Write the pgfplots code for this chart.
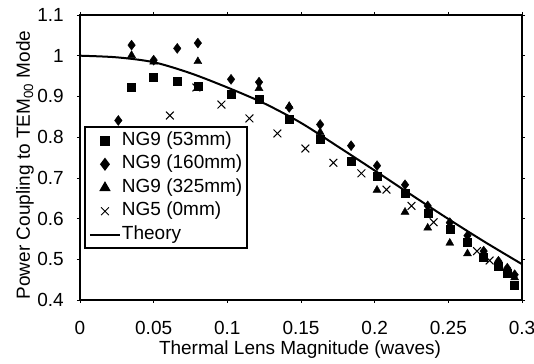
\documentclass[border=0pt]{standalone}
\usepackage{pgfplots}
\pgfplotsset{compat=1.18}
\usepackage{fontspec}
\setmainfont{Liberation Sans}
\newcommand{\lblfont}{\fontsize{19bp}{22bp}\selectfont}
\pgfplotsset{myleg/.style={legend image code/.code={\draw[mark repeat=2,mark phase=2,##1] plot coordinates {(0bp,0bp) (15bp,0bp) (30bp,0bp)};}}}
\begin{document}
\lblfont
\begin{tikzpicture}[font=\lblfont]
\begin{axis}[
  scale only axis, width=442bp, height=285bp,
  xmin=0, xmax=0.3, ymin=0.4, ymax=1.1,
  xtick={0,0.05,0.1,0.15,0.2,0.25,0.3},
  xticklabels={0,0.05,0.1,0.15,0.2,0.25,0.3},
  ytick={0.4,0.5,0.6,0.7,0.8,0.9,1.0,1.1},
  yticklabels={0.4,0.5,0.6,0.7,0.8,0.9,1,1.1},
  tick align=outside, major tick length=3bp,
  tick style={black, line width=0.6bp},
  axis line style={line width=2.2bp},
  /pgf/number format/assume math mode=true,
  tick label style={font=\lblfont},
  xticklabel style={inner sep=0pt, anchor=north, yshift=-18bp},
  yticklabel style={inner sep=0pt, anchor=east, xshift=-13bp},
  label style={font=\lblfont},
  xlabel={Thermal Lens Magnitude (waves)},
  xlabel style={at={(axis description cs:0.4977,-0.193)}, anchor=base, inner sep=0pt},
  ylabel={Power Coupling to TEM\textsubscript{00} Mode},
  ylabel style={at={(axis description cs:-0.1244,0.474)}, anchor=center, inner sep=0pt},
  legend style={at={(axis description cs:0.009,0.6105)}, anchor=north west,
    draw=black, line width=2bp, font=\lblfont, inner xsep=4bp, inner ysep=4bp,
    row sep=4bp,
    nodes={inner sep=1bp, text height=13.5bp, text depth=4bp, font=\lblfont}},
  legend cell align=left,
]
\addplot[only marks, mark=square*, mark size=4bp, black, myleg] coordinates {
(0.035,0.922)(0.050,0.947)(0.066,0.937)(0.080,0.925)(0.1025,0.905)(0.1215,0.893)
(0.142,0.843)(0.163,0.796)(0.184,0.742)(0.2016,0.705)(0.2206,0.662)(0.236,0.612)
(0.251,0.574)(0.263,0.542)(0.274,0.505)(0.284,0.484)(0.290,0.465)(0.295,0.436)};
\addlegendentry{NG9 (53mm)}
\addplot[only marks, mark=diamond*, mark size=5bp, black, myleg] coordinates {
(0.026,0.841)(0.035,1.026)(0.050,0.989)(0.066,1.018)(0.080,1.031)(0.1025,0.942)
(0.1215,0.935)(0.142,0.873)(0.163,0.831)(0.184,0.779)(0.2016,0.730)(0.2206,0.683)
(0.236,0.631)(0.251,0.590)(0.263,0.558)(0.274,0.520)(0.284,0.495)(0.290,0.478)(0.295,0.462)};
\addlegendentry{NG9 (160mm)}
\addplot[only marks, mark=triangle*, mark size=4.6bp, black, myleg] coordinates {
(0.035,1.001)(0.050,0.985)(0.080,0.986)(0.1215,0.920)(0.142,0.876)(0.163,0.812)
(0.2016,0.670)(0.2206,0.616)(0.236,0.577)(0.251,0.540)(0.263,0.514)(0.274,0.500)
(0.284,0.490)(0.290,0.473)(0.295,0.455)};
\addlegendentry{NG9 (325mm)}
\addplot[only marks, mark=x, mark size=5.5bp, black, mark options={line width=1bp}, myleg] coordinates {
(0.061,0.853)(0.079,0.922)(0.096,0.880)(0.115,0.846)(0.134,0.809)(0.153,0.772)
(0.172,0.737)(0.191,0.711)(0.208,0.671)(0.225,0.631)(0.240,0.591)(0.2695,0.520)(0.278,0.497)};
\addlegendentry{NG5 (0mm)}
\addplot[black, line width=2bp, smooth, no marks, myleg] coordinates {
(0,1.0)(0.025,0.996)(0.05,0.984)(0.075,0.957)(0.1,0.922)(0.125,0.883)(0.15,0.835)
(0.175,0.777)(0.2,0.718)(0.225,0.658)(0.25,0.599)(0.275,0.542)(0.3,0.488)};
\addlegendentry{Theory}
\end{axis}
\pgfresetboundingbox
\path[use as bounding box] ([xshift=-80bp,yshift=-64bp]current axis.south west) rectangle ([xshift=12bp,yshift=15bp]current axis.north east);
\end{tikzpicture}
\end{document}
